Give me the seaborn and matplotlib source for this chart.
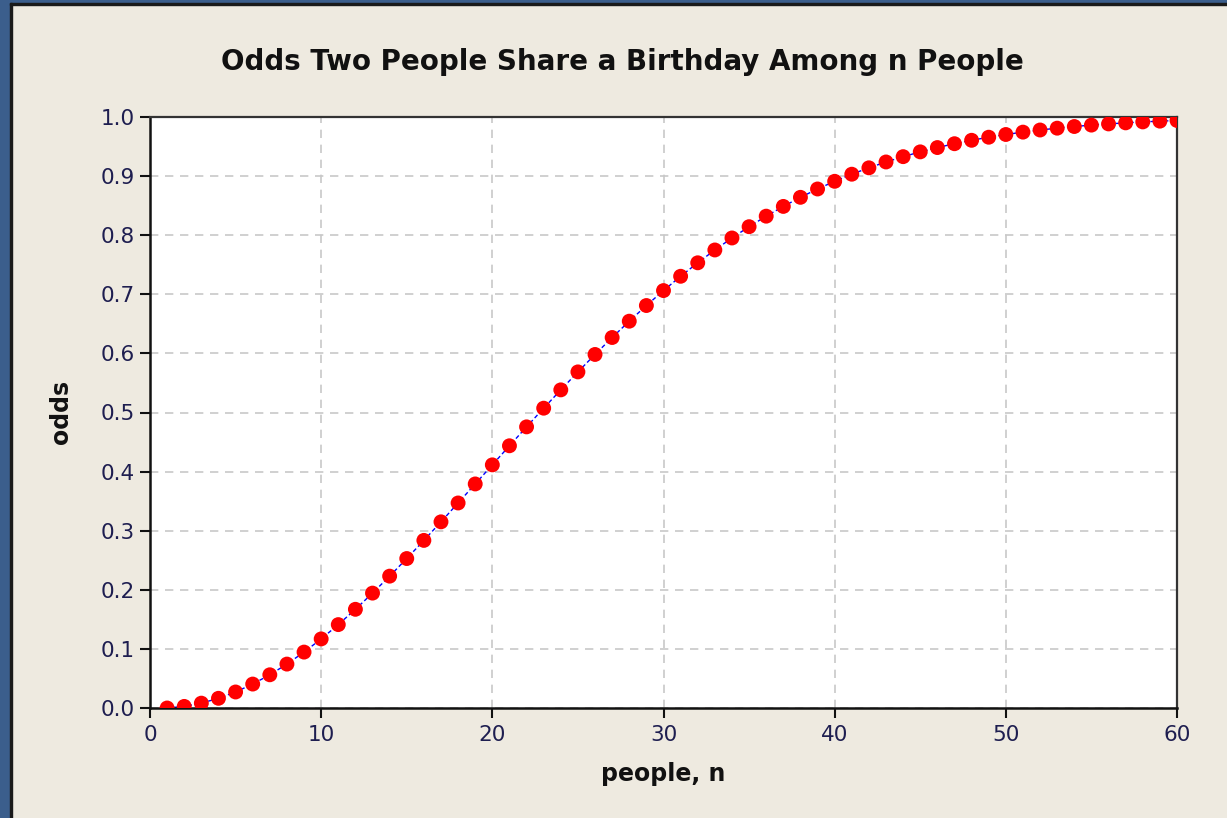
import matplotlib
matplotlib.use("Agg")
import matplotlib.pyplot as plt
import seaborn as sns
import pandas as pd
from matplotlib.patches import Rectangle

people = list(range(1, 61))
odds = [0.0, 0.0027, 0.0082, 0.0164, 0.0271, 0.0405, 0.0562, 0.0743, 0.0946, 0.1169,
        0.1411, 0.1670, 0.1944, 0.2231, 0.2529, 0.2836, 0.3150, 0.3469, 0.3791, 0.4114,
        0.4437, 0.4757, 0.5073, 0.5383, 0.5687, 0.5982, 0.6269, 0.6545, 0.6810, 0.7063,
        0.7305, 0.7533, 0.7750, 0.7953, 0.8144, 0.8322, 0.8487, 0.8641, 0.8782, 0.8912,
        0.9032, 0.9140, 0.9239, 0.9329, 0.9410, 0.9483, 0.9548, 0.9606, 0.9658, 0.9704,
        0.9744, 0.9780, 0.9811, 0.9839, 0.9863, 0.9883, 0.9901, 0.9917, 0.9930, 0.9941]
x_ticks = [0, 10, 20, 30, 40, 50, 60]
y_ticks = [0.0, 0.1, 0.2, 0.3, 0.4, 0.5, 0.6, 0.7, 0.8, 0.9, 1.0]

df = pd.DataFrame({"people": people, "odds": odds})

sns.set_theme(style="white")
plt.rcParams['font.family'] = ['DejaVu Sans']

W, H = 1227, 818
fig = plt.figure(figsize=(W / 100, H / 100), dpi=100, facecolor="#EEEAE0")

# window frame
border = "#3B5E8C"
fig.patches.append(Rectangle((0, 0), 10 / W, 1, transform=fig.transFigure, color=border, zorder=0))
fig.patches.append(Rectangle((0, 1 - 3 / H), 1, 3 / H, transform=fig.transFigure, color=border, zorder=0))
fig.patches.append(Rectangle((10 / W, 0), 1.5 / W, 1 - 3 / H, transform=fig.transFigure, color="#1a1a1a", zorder=0))
fig.patches.append(Rectangle((10 / W, 1 - 4.5 / H), 1 - 10 / W, 1.5 / H, transform=fig.transFigure, color="#1a1a1a", zorder=0))

left, right, top, bottom = 150, 1177, 117, 708
ax = fig.add_axes([left / W, 1 - bottom / H, (right - left) / W, (bottom - top) / H])
ax.set_facecolor("white")

sns.lineplot(data=df, x="people", y="odds", ax=ax, color="blue", linestyle=(0, (3, 2)),
             linewidth=1.0, zorder=2)
sns.scatterplot(data=df, x="people", y="odds", ax=ax, color="red", s=115,
                edgecolor="none", zorder=3, clip_on=True)

ax.set_xlim(0, 60)
ax.set_ylim(0, 1.0)
ax.set_xticks(x_ticks)
ax.set_yticks(y_ticks)
ax.set_xticklabels([str(v) for v in x_ticks])
ax.set_yticklabels([f"{v:.1f}" for v in y_ticks])
ax.grid(True, color="#C8C8C8", linestyle=(0, (5, 4)), linewidth=1.2)
ax.set_axisbelow(True)

ax.tick_params(axis="both", which="major", direction="out", length=7, width=1.5,
               color="#111111", labelsize=15.5, labelcolor="#1e1e50", bottom=True, left=True)
ax.tick_params(axis="x", pad=5)
ax.tick_params(axis="y", pad=4)
for side in ["left", "bottom"]:
    ax.spines[side].set_color("#111111")
    ax.spines[side].set_linewidth(1.8)
for side in ["top", "right"]:
    ax.spines[side].set_color("#333333")
    ax.spines[side].set_linewidth(1.6)

ax.set_xlabel("people, n", fontsize=17, fontweight="bold", color="#111111")
ax.set_ylabel("odds", fontsize=17, fontweight="bold", color="#111111")
ax.xaxis.set_label_coords((663 - left) / (right - left), (bottom - 762) / (bottom - top))
ax.yaxis.set_label_coords((73 - left) / (right - left), (bottom - 412) / (bottom - top))
fig.text((220 + 1025) / 2 / W, 1 - 62 / H, "Odds Two People Share a Birthday Among n People",
         ha="center", va="center", fontsize=20, fontweight="bold", color="#111111")

fig.savefig("out.png", dpi=100, facecolor=fig.get_facecolor())
